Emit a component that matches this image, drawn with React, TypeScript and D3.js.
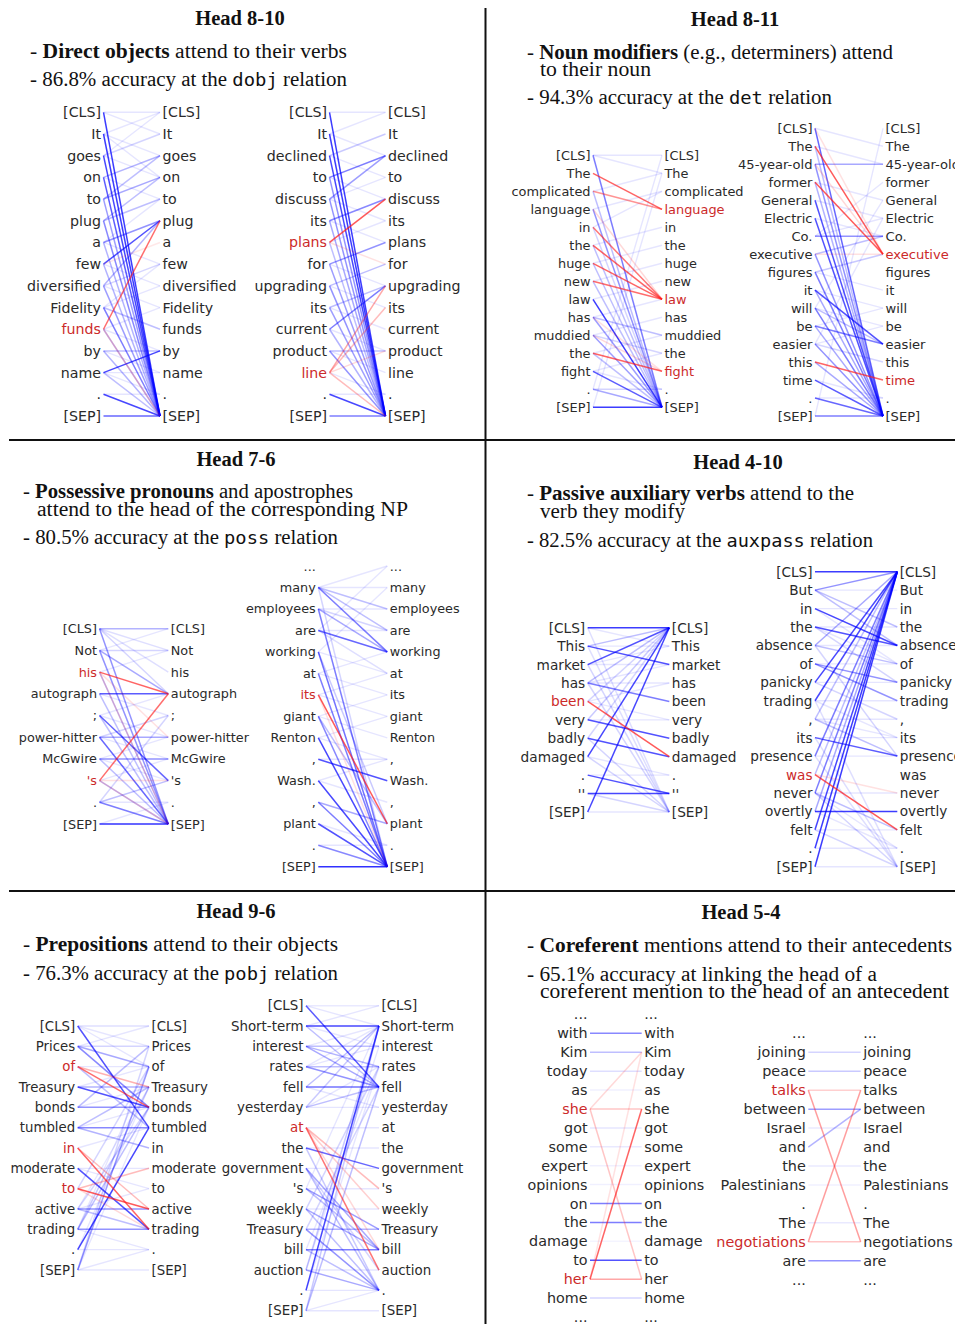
import React from 'react';
import * as d3 from 'd3';

type E = [number, number, number];
type P = [number, number];

// ---------------- DATA ----------------
// Head 8-10
const tok810a = ['[CLS]', 'It', 'goes', 'on', 'to', 'plug', 'a', 'few', 'diversified', 'Fidelity', 'funds', 'by', 'name', '.', '[SEP]'];
const hiL810a = [10];
const hiR810a: number[] = [];
const blue810a: E[] = [[0,14,.9],[1,14,.9],[2,14,.85],[3,14,.75],[4,14,.45],[5,14,.55],[6,5,.5],[7,5,.8],[8,14,.45],[8,5,.35],[9,14,.6],[11,14,.35],[11,11,.3],[12,11,.85],[13,14,.85],[14,14,.7],[3,2,.35],[4,3,.4],[4,2,.3],[5,4,.3],[2,1,.2],[6,14,.35],[7,14,.35],[10,14,.3],[12,14,.3],[9,10,.3],[8,7,.2],[5,3,.3]];
const red810a: E[] = [[10,5,.75],[10,14,.25],[7,6,.12]];
const faint810a: P[] = [[0,0],[0,1],[1,2],[1,0],[2,3],[3,4],[6,7],[7,8],[8,9],[9,8],[10,11],[11,12],[12,13],[13,13],[2,0],[6,4],[9,7],[10,9],[12,12],[1,3]];

const tok810b = ['[CLS]', 'It', 'declined', 'to', 'discuss', 'its', 'plans', 'for', 'upgrading', 'its', 'current', 'product', 'line', '.', '[SEP]'];
const hiL810b = [6, 12];
const hiR810b: number[] = [];
const blue810b: E[] = [[0,14,.9],[1,14,.9],[2,14,.85],[3,2,.6],[3,14,.5],[4,2,.45],[4,14,.5],[5,4,.55],[5,14,.4],[7,6,.5],[7,14,.45],[8,14,.5],[8,7,.3],[9,14,.45],[10,8,.6],[10,14,.35],[11,14,.5],[11,11,.3],[13,14,.85],[14,14,.6],[6,14,.3],[2,1,.25],[9,8,.3]];
const red810b: E[] = [[6,4,.85],[12,8,.45],[12,9,.35],[12,14,.35],[6,7,.15],[12,11,.2]];
const faint810b: P[] = [[0,0],[1,0],[1,2],[2,3],[3,4],[4,5],[5,6],[6,5],[8,9],[9,10],[10,11],[11,12],[13,13],[12,13],[4,3],[7,8]];

// Head 8-11
const tok811a = ['[CLS]', 'The', 'complicated', 'language', 'in', 'the', 'huge', 'new', 'law', 'has', 'muddied', 'the', 'fight', '.', '[SEP]'];
const hiL811a: number[] = [];
const hiR811a = [3, 8, 12];
const blue811a: E[] = [[0,14,.6],[3,14,.5],[4,14,.2],[8,14,.9],[9,14,.45],[10,14,.45],[12,14,.75],[13,14,.4],[14,14,.9],[2,14,.3],[5,14,.3],[6,14,.3],[7,14,.3],[11,14,.3],[9,10,.3],[10,11,.2],[13,13,.2]];
const red811a: E[] = [[1,3,.8],[2,3,.55],[4,8,.7],[5,8,.8],[6,8,.8],[7,8,.75],[11,12,.8],[3,8,.2],[10,12,.2],[9,12,.15]];
const faint811a: P[] = [[0,0],[0,1],[4,2],[5,4],[6,5],[7,6],[9,8],[12,11],[13,0],[14,1],[10,9],[3,2],[8,7],[11,10],[12,13],[2,1]];

const tok811b = ['[CLS]', 'The', '45-year-old', 'former', 'General', 'Electric', 'Co.', 'executive', 'figures', 'it', 'will', 'be', 'easier', 'this', 'time', '.', '[SEP]'];
const hiL811b: number[] = [];
const hiR811b = [7, 14];
const blue811b: E[] = [[0,16,.7],[2,2,.4],[2,16,.5],[4,16,.8],[5,16,.8],[6,6,.5],[7,16,.5],[8,16,.6],[9,12,.8],[10,16,.6],[11,12,.6],[12,16,.5],[14,16,.75],[15,16,.7],[16,16,.6],[3,16,.35],[1,16,.3],[9,16,.4],[11,16,.4],[13,16,.4],[10,12,.3],[12,13,.2],[7,6,.3],[8,7,.25]];
const red811b: E[] = [[1,7,.85],[3,7,.85],[13,14,.8],[0,7,.15],[7,7,.15],[2,7,.2]];
const faint811b: P[] = [[0,1],[1,2],[3,4],[4,5],[5,6],[6,5],[8,9],[9,10],[10,11],[11,10],[12,11],[14,15],[15,15],[16,0],[12,5],[10,4],[6,3]];

// Head 7-6
const tok76a = ['[CLS]', 'Not', 'his', 'autograph', ';', 'power-hitter', 'McGwire', "'s", '.', '[SEP]'];
const hiL76a = [2, 7];
const hiR76a: number[] = [];
const blue76a: E[] = [[0,0,.35],[0,9,.5],[0,3,.2],[1,9,.5],[1,3,.4],[1,1,.2],[3,3,.75],[3,9,.3],[4,7,.7],[5,9,.7],[5,5,.4],[6,6,.5],[6,9,.3],[8,9,.6],[8,7,.3],[9,9,.95],[2,9,.3],[4,9,.3],[0,1,.15],[0,2,.15],[5,4,.2],[7,9,.3],[8,4,.2]];
const red76a: E[] = [[2,3,.8],[7,3,.75],[2,9,.2],[7,9,.2],[7,7,.15],[2,5,.15]];
const faint76a: P[] = [[1,0],[2,1],[4,3],[5,6],[6,5],[6,7],[7,6],[8,8],[9,8],[3,4],[4,5]];

const tok76b = ['...', 'many', 'employees', 'are', 'working', 'at', 'its', 'giant', 'Renton', ',', 'Wash.', ',', 'plant', '.', '[SEP]'];
const hiL76b = [6];
const hiR76b: number[] = [];
const blue76b: E[] = [[1,4,.6],[1,3,.3],[1,2,.3],[1,14,.2],[2,4,.4],[2,14,.6],[3,4,.7],[4,14,.65],[5,14,.6],[7,14,.55],[8,14,.85],[9,10,.8],[10,14,.85],[11,14,.6],[11,12,.4],[12,14,.8],[13,14,.55],[14,14,.95],[2,3,.2],[3,5,.15],[7,12,.3],[4,12,.25]];
const red76b: E[] = [[6,12,.85],[6,14,.15]];
const faint76b: P[] = [[1,1],[1,0],[2,2],[3,3],[4,5],[5,6],[5,4],[6,7],[7,8],[8,9],[9,9],[10,11],[12,13],[13,13],[3,0],[4,1],[6,5],[7,6],[8,7],[10,9]];

// Head 4-10
const tok410a = ['[CLS]', 'This', 'market', 'has', 'been', 'very', 'badly', 'damaged', '.', "''", '[SEP]'];
const hiL410a = [4];
const hiR410a: number[] = [];
const blue410a: E[] = [[0,0,.9],[1,2,.8],[2,0,.8],[3,4,.6],[3,0,.3],[5,6,.8],[6,7,.8],[7,0,.85],[8,9,.8],[9,9,.85],[10,0,.85],[1,0,.3],[4,0,.2],[5,0,.25],[6,0,.2],[0,10,.15],[1,10,.15],[2,10,.2],[3,10,.2],[6,10,.2],[7,10,.2],[9,10,.2]];
const red410a: E[] = [[4,7,.85]];
const faint410a: P[] = [[0,1],[1,1],[2,2],[3,3],[4,5],[5,5],[7,8],[8,8],[10,10],[2,1],[3,2],[4,3]];

const tok410b = ['[CLS]', 'But', 'in', 'the', 'absence', 'of', 'panicky', 'trading', ',', 'its', 'presence', 'was', 'never', 'overtly', 'felt', '.', '[SEP]'];
const hiL410b = [11];
const hiR410b: number[] = [];
const blue410b: E[] = [[0,0,.9],[1,0,.5],[1,3,.3],[1,4,.3],[2,4,.85],[3,4,.8],[4,0,.4],[4,5,.3],[5,6,.5],[5,7,.5],[6,0,.85],[7,0,.85],[8,0,.3],[8,10,.3],[9,10,.75],[10,0,.6],[12,0,.6],[13,13,.9],[14,0,.85],[15,0,.9],[16,0,.9],[11,0,.3],[4,10,.2],[12,14,.3],[13,0,.4],[3,6,.2],[6,8,.2],[9,16,.15],[10,16,.15],[12,16,.2],[14,16,.2],[7,16,.15]];
const red410b: E[] = [[11,14,.85],[11,12,.15]];
const faint410b: P[] = [[1,1],[2,2],[3,3],[4,4],[5,5],[6,6],[7,7],[8,8],[9,9],[10,10],[12,12],[14,14],[15,15],[16,16],[2,5],[3,5],[7,9],[8,9],[12,15],[13,15]];

// Head 9-6
const tok96a = ['[CLS]', 'Prices', 'of', 'Treasury', 'bonds', 'tumbled', 'in', 'moderate', 'to', 'active', 'trading', '.', '[SEP]'];
const hiL96a = [2, 6, 8];
const hiR96a: number[] = [];
const blue96a: E[] = [[0,5,.8],[0,0,.15],[1,4,.55],[1,2,.4],[1,1,.2],[2,5,.3],[3,4,.8],[3,3,.35],[4,4,.5],[4,1,.3],[5,5,.55],[5,6,.35],[5,3,.3],[7,10,.8],[9,9,.5],[9,10,.3],[10,10,.5],[10,4,.3],[11,5,.85],[12,2,.45],[12,1,.2],[10,3,.25],[9,4,.2],[8,2,.2]];
const red96a: E[] = [[2,4,.75],[2,3,.4],[6,10,.8],[6,9,.35],[8,9,.85],[8,7,.35],[8,10,.2]];
const faint96a: P[] = [[0,1],[0,2],[1,0],[2,2],[3,2],[4,3],[5,4],[6,5],[7,7],[7,8],[9,8],[10,11],[11,11],[12,11],[12,12],[11,3],[12,4],[9,3],[10,2]];

const tok96b = ['[CLS]', 'Short-term', 'interest', 'rates', 'fell', 'yesterday', 'at', 'the', 'government', "'s", 'weekly', 'Treasury', 'bill', 'auction', '.', '[SEP]'];
const hiL96b = [6];
const hiR96b: number[] = [];
const blue96b: E[] = [[0,4,.75],[0,0,.1],[1,1,.85],[1,4,.3],[2,4,.4],[2,3,.35],[2,2,.3],[3,4,.5],[3,3,.3],[4,4,.65],[4,1,.3],[5,4,.3],[5,1,.25],[7,8,.7],[8,12,.4],[8,14,.3],[9,11,.45],[9,12,.3],[10,12,.4],[10,14,.3],[11,14,.5],[11,11,.35],[12,12,.6],[12,14,.3],[13,14,.4],[14,1,.85],[15,4,.3],[15,1,.25],[13,1,.25],[11,4,.2],[10,3,.2],[7,14,.25],[8,13,.2]];
const red96b: E[] = [[6,13,.7],[6,9,.35],[6,10,.25],[6,12,.2]];
const faint96b: P[] = [[0,1],[1,0],[1,2],[2,1],[3,2],[4,5],[5,5],[6,6],[7,7],[8,8],[9,9],[10,10],[13,13],[14,14],[15,14],[15,15],[3,1],[5,3],[9,1],[12,3],[13,2],[14,3]];

// Head 5-4
const tok54a = ['...', 'with', 'Kim', 'today', 'as', 'she', 'got', 'some', 'expert', 'opinions', 'on', 'the', 'damage', 'to', 'her', 'home', '...'];
const hiL54a = [5, 14];
const hiR54a: number[] = [];
const blue54a: E[] = [[1,1,.55],[2,2,.3],[3,3,.15],[4,4,.07],[6,6,.12],[7,7,.1],[8,8,.07],[9,9,.07],[10,10,.6],[11,11,.6],[12,12,.05],[13,13,.8],[15,15,.2]];
const red54a: E[] = [[5,2,.2],[5,5,.3],[5,14,.3],[14,5,.8],[14,14,.45],[14,2,.15]];
const faint54a: P[] = [];

const tok54b = ['...', 'joining', 'peace', 'talks', 'between', 'Israel', 'and', 'the', 'Palestinians', '.', 'The', 'negotiations', 'are', '...'];
const hiL54b = [3, 11];
const hiR54b: number[] = [];
const blue54b: E[] = [[1,1,.2],[2,2,.25],[4,4,.45],[5,5,.1],[6,4,.35],[7,7,.1],[8,8,.07],[10,10,.1],[12,12,.5]];
const red54b: E[] = [[3,3,.25],[3,11,.5],[11,3,.5],[11,11,.3]];
const faint54b: P[] = [];

// Panel texts
const titles = ['Head 8-10', 'Head 8-11', 'Head 7-6', 'Head 4-10', 'Head 9-6', 'Head 5-4'];
type Seg = [string, 'r' | 'b' | 'm'];
const text810: Seg[][] = [
  [['- ', 'r'], ['Direct objects', 'b'], [' attend to their verbs', 'r']],
  [['- 86.8% accuracy at the ', 'r'], ['dobj', 'm'], [' relation', 'r']],
];
const text811: Seg[][] = [
  [['- ', 'r'], ['Noun modifiers', 'b'], [' (e.g., determiners) attend', 'r']],
  [['to their noun', 'r']],
  [['- 94.3% accuracy at the ', 'r'], ['det', 'm'], [' relation', 'r']],
];
const text76: Seg[][] = [
  [['- ', 'r'], ['Possessive pronouns', 'b'], [' and apostrophes', 'r']],
  [['attend to the head of the corresponding NP', 'r']],
  [['- 80.5% accuracy at the ', 'r'], ['poss', 'm'], [' relation', 'r']],
];
const text410: Seg[][] = [
  [['- ', 'r'], ['Passive auxiliary verbs', 'b'], [' attend to the', 'r']],
  [['verb they modify', 'r']],
  [['- 82.5% accuracy at the ', 'r'], ['auxpass', 'm'], [' relation', 'r']],
];
const text96: Seg[][] = [
  [['- ', 'r'], ['Prepositions', 'b'], [' attend to their objects', 'r']],
  [['- 76.3% accuracy at the ', 'r'], ['pobj', 'm'], [' relation', 'r']],
];
const text54: Seg[][] = [
  [['- ', 'r'], ['Coreferent', 'b'], [' mentions attend to their antecedents', 'r']],
  [['- 65.1% accuracy at linking the head of a', 'r']],
  [['coreferent mention to the head of an antecedent', 'r']],
];

// ---------------- LAYOUT ----------------
const W = 955, H = 1324;
const BLUE = '#0000ff', RED = '#ff1a1a';
const TOKCOL = '#2a2a2a', TOKRED = '#cc2a2a';
const SERIF = '"Liberation Serif", "Times New Roman", serif';
const MONO = '"DejaVu Sans Mono", "Liberation Mono", monospace';
const SANS = '"DejaVu Sans", sans-serif';

interface DiagProps {
  tokens: string[]; hiL: number[]; hiR: number[]; blue: E[]; red: E[]; faint: P[];
  x0: number; x1: number; yTop: number; yBot: number; fs: number;
}

const diagrams: DiagProps[] = [
  { tokens: tok810a, hiL: hiL810a, hiR: hiR810a, blue: blue810a, red: red810a, faint: faint810a, x0: 103.5, x1: 160, yTop: 112.3, yBot: 416, fs: 14.2 },
  { tokens: tok810b, hiL: hiL810b, hiR: hiR810b, blue: blue810b, red: red810b, faint: faint810b, x0: 329.5, x1: 385.5, yTop: 112.3, yBot: 416, fs: 14.2 },
  { tokens: tok811a, hiL: hiL811a, hiR: hiR811a, blue: blue811a, red: red811a, faint: faint811a, x0: 593, x1: 662, yTop: 155.3, yBot: 407.3, fs: 12.9 },
  { tokens: tok811b, hiL: hiL811b, hiR: hiR811b, blue: blue811b, red: red811b, faint: faint811b, x0: 815, x1: 883, yTop: 128.3, yBot: 416, fs: 13.1 },
  { tokens: tok76a, hiL: hiL76a, hiR: hiR76a, blue: blue76a, red: red76a, faint: faint76a, x0: 99.5, x1: 168.3, yTop: 628.7, yBot: 824, fs: 12.8 },
  { tokens: tok76b, hiL: hiL76b, hiR: hiR76b, blue: blue76b, red: red76b, faint: faint76b, x0: 318.3, x1: 387.3, yTop: 566, yBot: 866.7, fs: 12.8 },
  { tokens: tok410a, hiL: hiL410a, hiR: hiR410a, blue: blue410a, red: red410a, faint: faint410a, x0: 587.7, x1: 669.3, yTop: 627.7, yBot: 812, fs: 13.7 },
  { tokens: tok410b, hiL: hiL410b, hiR: hiR410b, blue: blue410b, red: red410b, faint: faint410b, x0: 815, x1: 897.3, yTop: 571.7, yBot: 866.7, fs: 13.6 },
  { tokens: tok96a, hiL: hiL96a, hiR: hiR96a, blue: blue96a, red: red96a, faint: faint96a, x0: 77.7, x1: 149, yTop: 1026, yBot: 1270, fs: 13.3 },
  { tokens: tok96b, hiL: hiL96b, hiR: hiR96b, blue: blue96b, red: red96b, faint: faint96b, x0: 306, x1: 379, yTop: 1005.7, yBot: 1310.7, fs: 13.4 },
  { tokens: tok54a, hiL: hiL54a, hiR: hiR54a, blue: blue54a, red: red54a, faint: faint54a, x0: 590, x1: 641.7, yTop: 1014.4, yBot: 1317, fs: 14.3 },
  { tokens: tok54b, hiL: hiL54b, hiR: hiR54b, blue: blue54b, red: red54b, faint: faint54b, x0: 808.3, x1: 860.7, yTop: 1033.4, yBot: 1279.6, fs: 14.4 },
];

interface TitleLayout { cx: number; y: number }
const titleLayout: TitleLayout[] = [
  { cx: 240, y: 25 }, { cx: 735, y: 26 }, { cx: 236, y: 466 },
  { cx: 738, y: 469 }, { cx: 236, y: 918 }, { cx: 741, y: 919 },
];
interface LineLayout { x: number; y: number; w: number }
const panelTexts: Seg[][][] = [text810, text811, text76, text410, text96, text54];
const lineLayout: LineLayout[][] = [
  [{ x: 30, y: 58, w: 317 }, { x: 30, y: 86, w: 317 }],
  [{ x: 527, y: 59, w: 366 }, { x: 540, y: 76, w: 111 }, { x: 527, y: 104, w: 305 }],
  [{ x: 23, y: 498, w: 330 }, { x: 37, y: 516, w: 371 }, { x: 23, y: 544, w: 315 }],
  [{ x: 527, y: 500, w: 327 }, { x: 540, y: 518, w: 145 }, { x: 527, y: 547, w: 346 }],
  [{ x: 23, y: 951, w: 315 }, { x: 23, y: 980, w: 315 }],
  [{ x: 527, y: 952, w: 425 }, { x: 527, y: 980.5, w: 350 }, { x: 540, y: 998, w: 409 }],
];

const Diagram: React.FC<DiagProps> = (p) => {
  const n = p.tokens.length;
  const y = d3.scaleLinear().domain([0, n - 1]).range([p.yTop, p.yBot]);
  const seg = d3.line<[number, number]>();
  const path = (a: number, b: number) => seg([[p.x0, y(a)], [p.x1, y(b)]]) || '';
  return (
    <g>
      {p.faint.map(([a, b], i) => (
        <path key={'f' + i} d={path(a, b)} stroke={BLUE} strokeOpacity={0.1} strokeWidth={1.4} fill="none" />
      ))}
      {p.blue.map(([a, b, w], i) => (
        <path key={'b' + i} d={path(a, b)} stroke={BLUE} strokeOpacity={w * 0.85} strokeWidth={1.5} fill="none" />
      ))}
      {p.red.map(([a, b, w], i) => (
        <path key={'r' + i} d={path(a, b)} stroke={RED} strokeOpacity={w * 0.85} strokeWidth={1.5} fill="none" />
      ))}
      {p.tokens.map((t, i) => (
        <text key={'l' + i} x={p.x0 - 2.5} y={y(i)} textAnchor="end" dominantBaseline="central"
          fontFamily={SANS} fontSize={p.fs} fill={p.hiL.includes(i) ? TOKRED : TOKCOL}>{t}</text>
      ))}
      {p.tokens.map((t, i) => (
        <text key={'rt' + i} x={p.x1 + 2.5} y={y(i)} textAnchor="start" dominantBaseline="central"
          fontFamily={SANS} fontSize={p.fs} fill={p.hiR.includes(i) ? TOKRED : TOKCOL}>{t}</text>
      ))}
    </g>
  );
};

const BulletLine: React.FC<{ segs: Seg[]; l: LineLayout }> = ({ segs, l }) => (
  <text x={l.x} y={l.y} fontFamily={SERIF} fontSize={20} fill="#111" textLength={l.w} lengthAdjust="spacingAndGlyphs" xmlSpace="preserve">
    {segs.map(([s, k], i) => (
      <tspan key={i} fontWeight={k === 'b' ? 'bold' : 'normal'} fontFamily={k === 'm' ? MONO : SERIF}
        fontSize={k === 'm' ? 18 : 20}>{s}</tspan>
    ))}
  </text>
);

export default function App() {
  return (
    <svg width={W} height={H} viewBox={`0 0 ${W} ${H}`} style={{ position: 'absolute', left: 0, top: 0, background: '#fff' }}>
      <rect x={0} y={0} width={W} height={H} fill="#fff" />
      <line x1={485.5} y1={8} x2={485.5} y2={H} stroke="#111" strokeWidth={2} />
      <line x1={9} y1={440} x2={W} y2={440} stroke="#111" strokeWidth={2} />
      <line x1={9} y1={891} x2={W} y2={891} stroke="#111" strokeWidth={2} />
      {titles.map((t, i) => (
        <text key={'t' + i} x={titleLayout[i].cx} y={titleLayout[i].y} textAnchor="middle" fontFamily={SERIF}
          fontWeight="bold" fontSize={20.5} fill="#111">{t}</text>
      ))}
      {panelTexts.map((lines, pi) => lines.map((segs, li) => (
        <BulletLine key={pi + '-' + li} segs={segs} l={lineLayout[pi][li]} />
      )))}
      {diagrams.map((d, i) => <Diagram key={i} {...d} />)}
    </svg>
  );
}
